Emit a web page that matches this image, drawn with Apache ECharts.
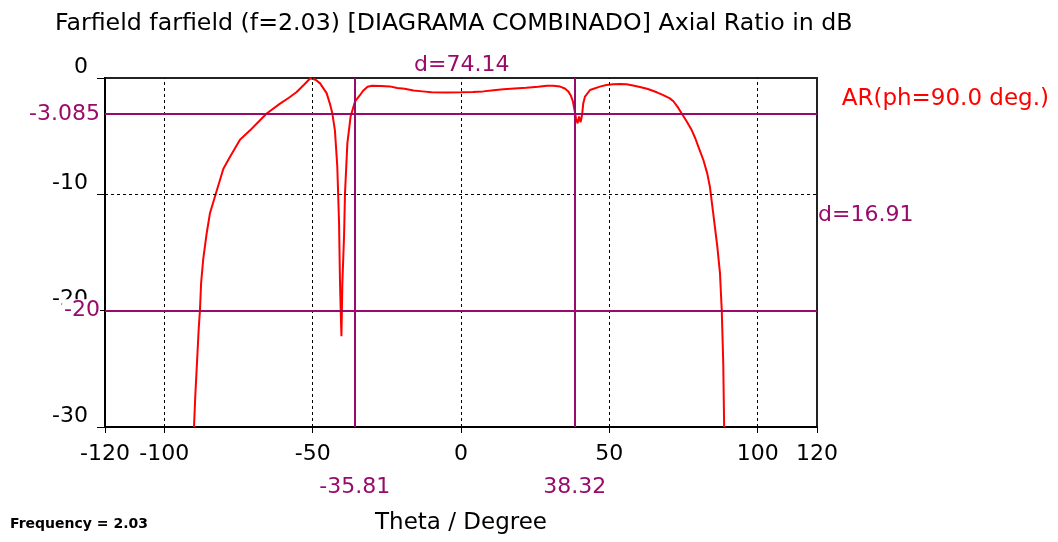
<!DOCTYPE html>
<html><head><meta charset="utf-8">
<script src="https://cdn.jsdelivr.net/npm/echarts@6/dist/echarts.min.js"></script>
<style>html,body{margin:0;padding:0;background:#fff}#c{width:1058px;height:542px}</style>
</head><body><div id="c"></div>
<script>
const theta = [-90.0,-89.6,-89.0,-88.4,-88.0,-87.6,-86.9,-85.7,-84.6,-82.6,-80.1,-77.9,-74.5,-71.1,-68.0,-65.5,-61.0,-58.0,-55.4,-53.0,-50.8,-49.0,-47.5,-45.3,-44.2,-43.4,-42.5,-41.7,-41.1,-40.8,-40.5,-40.3,-40.0,-39.4,-39.1,-38.3,-37.2,-35.7,-34.0,-33.0,-31.5,-30.0,-27.0,-24.0,-21.5,-19.0,-16.0,-13.0,-10.0,-5.0,0.0,4.0,7.5,11.0,14.3,18.0,22.0,26.0,29.0,31.0,33.4,35.0,36.2,37.0,37.7,38.3,38.8,39.3,39.8,40.3,40.8,41.2,41.8,43.5,46.8,49.0,51.3,53.5,55.8,58.0,60.3,63.0,66.0,68.0,70.4,71.6,73.2,74.4,76.0,77.8,79.0,80.0,81.7,83.0,83.9,85.0,86.4,87.3,87.9,88.4,88.7];
const arDb = [-30.0,-27.5,-24.5,-21.5,-20.0,-17.6,-15.6,-13.3,-11.6,-9.9,-7.8,-6.8,-5.3,-4.5,-3.7,-3.05,-2.2,-1.7,-1.2,-0.6,-0.02,-0.15,-0.46,-1.3,-2.2,-3.0,-4.5,-7.6,-12.5,-17.4,-20.5,-22.2,-17.7,-13.4,-9.9,-5.6,-3.3,-2.0,-1.46,-1.1,-0.75,-0.66,-0.69,-0.72,-0.86,-0.93,-1.08,-1.15,-1.23,-1.25,-1.23,-1.2,-1.15,-1.05,-0.97,-0.9,-0.83,-0.75,-0.66,-0.66,-0.74,-0.9,-1.17,-1.5,-2.0,-2.8,-3.5,-3.9,-3.3,-3.8,-3.2,-2.2,-1.6,-1.03,-0.74,-0.6,-0.54,-0.52,-0.54,-0.65,-0.78,-0.95,-1.23,-1.45,-1.75,-2.0,-2.55,-3.05,-3.7,-4.5,-5.2,-5.9,-7.05,-8.2,-9.35,-11.6,-14.5,-16.8,-20.0,-24.5,-30.0];
const xTickLabels = [-120,-100,-50,0,50,100,120];
const xGridLines = [-100,-50,0,50,100];
const yGridLines = [-10];
const markerTheta = [-35.81, 38.32];
const markerDb = [-3.085, -20];
const markerTexts = ['d=74.14', 'd=16.91'];
const seriesName = 'AR(ph=90.0 deg.)';
const titleText = 'Farfield farfield (f=2.03) [DIAGRAMA COMBINADO] Axial Ratio in dB';
const FONT = 'DejaVu Sans';
const MAG = '#9a0a6a';

const chart = echarts.init(document.getElementById('c'), null, {renderer:'canvas'});
const data = theta.map((t,i)=>[t, arDb[i]]);
const freqText = {type:'text',left:10,top:517,style:{text:'Frequency = 2.03',font:'bold 14px '+FONT,fill:'#000'}};
const option = {
  animation:false,
  textStyle:{fontFamily:FONT},
  title:{text:titleText,left:50,top:7,textStyle:{fontFamily:FONT,fontSize:23.7,fontWeight:'normal',color:'#000'}},
  legend:{data:[{name:seriesName,icon:'none'}],right:4,top:83,itemWidth:0,itemHeight:0,textStyle:{fontFamily:FONT,fontSize:23,color:'#ff0000'}},
  grid:{left:105,right:241,top:78,bottom:115,show:true,borderColor:'#222',borderWidth:2},
  xAxis:{type:'value',min:-120,max:120,interval:10,
    name:'Theta / Degree',nameLocation:'middle',nameGap:85,nameTextStyle:{fontFamily:FONT,fontSize:23,color:'#000'},
    axisLine:{show:true,onZero:false,lineStyle:{color:'#000',width:2}},
    axisTick:{show:true,customValues:xTickLabels,length:6,lineStyle:{color:'#000'}},
    axisLabel:{customValues:xTickLabels,margin:16,fontFamily:FONT,fontSize:22,color:'#000'},
    splitLine:{show:false}},
  yAxis:{type:'value',min:-30,max:0,interval:10,
    axisLine:{show:true,onZero:false,lineStyle:{color:'#000',width:2}},
    axisTick:{show:true,length:8,lineStyle:{color:'#000'}},
    axisLabel:{margin:17,verticalAlign:'bottom',fontFamily:FONT,fontSize:22,color:'#000'},
    splitLine:{show:false}},
  series:[
    {type:'line',name:'grid',silent:true,data:[],z:1,
     markLine:{silent:true,symbol:'none',animation:false,label:{show:false},
       lineStyle:{color:'#000',type:[3,3],width:1},
       data:[...xGridLines.map(v=>({xAxis:v})),...yGridLines.map(v=>({yAxis:v}))]}},
    {type:'line',name:seriesName,data:data,showSymbol:false,symbol:'none',z:3,
     lineStyle:{color:'#ff0000',width:2},itemStyle:{color:'#ff0000'}},
    {type:'line',name:'markers',silent:true,data:[],z:4,
     markLine:{silent:true,symbol:'none',animation:false,
       lineStyle:{color:MAG,type:'solid',width:2},
       data:[
         ...markerTheta.map(v=>({xAxis:v,label:{show:true,position:'start',distance:49,formatter:String(v),color:MAG,fontFamily:FONT,fontSize:22}})),
         ...markerDb.map(v=>({yAxis:v,label:{show:true,position:'start',distance:5,formatter:String(v),color:MAG,fontFamily:FONT,fontSize:22,backgroundColor:'#fff',padding:[1,0,0,2]}}))
       ]}}
  ],
  graphic:[freqText]
};
chart.setOption(option);
const p1 = chart.convertToPixel({xAxisIndex:0,yAxisIndex:0},[(markerTheta[0]+markerTheta[1])/2, 0]);
const p2 = chart.convertToPixel({xAxisIndex:0,yAxisIndex:0},[120,(markerDb[0]+markerDb[1])/2]);
chart.setOption({graphic:[
  freqText,
  {type:'text',x:p1[0]-3,y:p1[1]-13,style:{text:markerTexts[0],font:'22px '+FONT,fill:MAG,align:'center',verticalAlign:'middle'}},
  {type:'text',x:p2[0]+1,y:p2[1]+3,style:{text:markerTexts[1],font:'22px '+FONT,fill:MAG,align:'left',verticalAlign:'middle'}}
]});
</script></body></html>
